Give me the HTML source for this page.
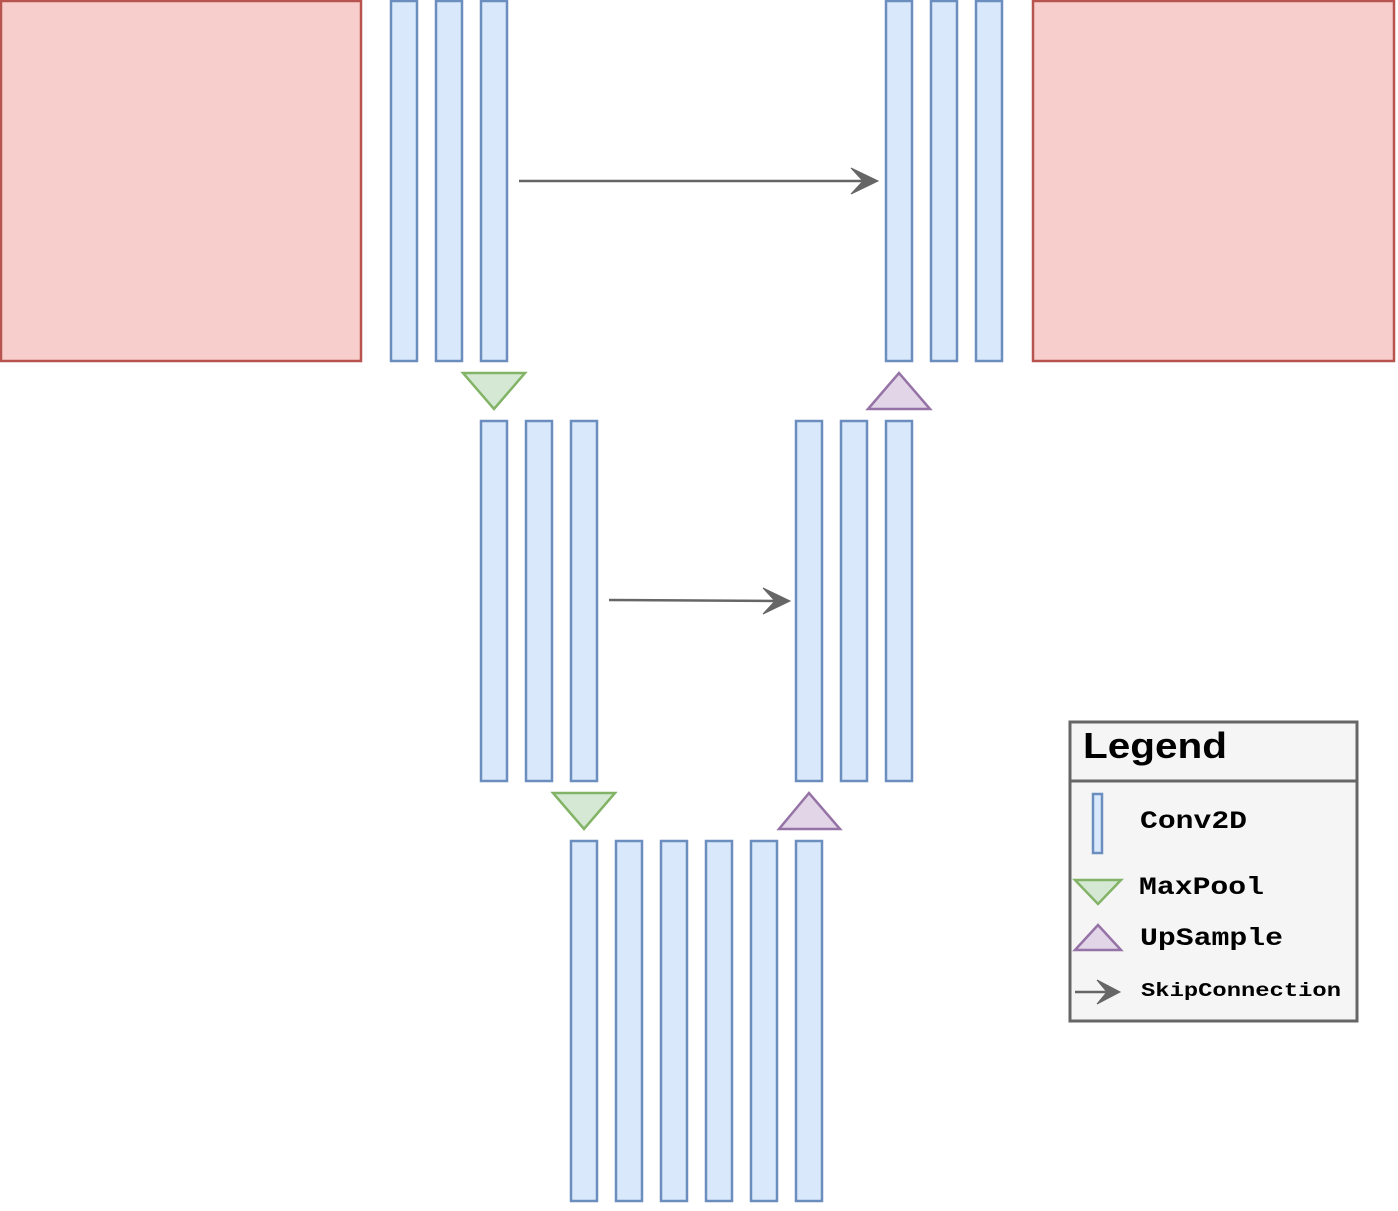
<!DOCTYPE html>
<html><head><meta charset="utf-8"><style>html,body{margin:0;padding:0;background:#fff}</style></head>
<body>
<svg width="1398" height="1206" viewBox="0 0 1398 1206" xmlns="http://www.w3.org/2000/svg">
<g fill="#f8cecc" stroke="#b85450" stroke-width="2.5">
<rect x="1" y="1" width="360" height="360"/>
<rect x="1033" y="1" width="361" height="360"/>
</g>
<g fill="#dae8fc" stroke="#6c8ebf" stroke-width="2.5">
<rect x="391" y="1" width="26" height="360"/><rect x="436" y="1" width="26" height="360"/><rect x="481" y="1" width="26" height="360"/>
<rect x="886" y="1" width="26" height="360"/><rect x="931" y="1" width="26" height="360"/><rect x="976" y="1" width="26" height="360"/>
<rect x="481" y="421" width="26" height="360"/><rect x="526" y="421" width="26" height="360"/><rect x="571" y="421" width="26" height="360"/>
<rect x="796" y="421" width="26" height="360"/><rect x="841" y="421" width="26" height="360"/><rect x="886" y="421" width="26" height="360"/>
<rect x="571" y="841" width="26" height="360"/><rect x="616" y="841" width="26" height="360"/><rect x="661" y="841" width="26" height="360"/>
<rect x="706" y="841" width="26" height="360"/><rect x="751" y="841" width="26" height="360"/><rect x="796" y="841" width="26" height="360"/>
</g>
<g fill="#d5e8d4" stroke="#82b366" stroke-width="2.5">
<polygon points="463,373 525,373 494,409"/>
<polygon points="553,793 615,793 584,829"/>
</g>
<g fill="#e1d5e7" stroke="#9673a6" stroke-width="2.5">
<polygon points="868,409 930,409 899,373"/>
<polygon points="779,829 840,829 809,793"/>
</g>
<rect x="1070" y="722" width="287" height="299" fill="#f5f5f5" stroke="#666" stroke-width="3"/>
<line x1="1070" y1="781" x2="1357" y2="781" stroke="#666" stroke-width="3"/>
<g stroke="#666" stroke-width="2.5" fill="none">
<line x1="519" y1="181" x2="866" y2="181"/>
<line x1="609" y1="600" x2="778" y2="601"/>
<line x1="1075" y1="992" x2="1108" y2="992"/>
</g>
<g fill="#666" stroke="#666" stroke-width="1">
<polygon points="878,181 851,168 863,181 851,194"/>
<polygon points="790,601 763,588 775,601 763,614"/>
<polygon points="1120,992 1097,980 1107,992 1097,1004"/>
</g>
<text x="1083" y="758" font-family="Liberation Sans, sans-serif" font-weight="bold" font-size="36" textLength="144" lengthAdjust="spacingAndGlyphs">Legend</text>
<rect x="1093" y="794" width="9" height="59" fill="#dae8fc" stroke="#6c8ebf" stroke-width="2.5"/>
<polygon points="1075,880 1121,880 1098,904" fill="#d5e8d4" stroke="#82b366" stroke-width="2.5"/>
<polygon points="1075,950 1121,950 1098,925" fill="#e1d5e7" stroke="#9673a6" stroke-width="2.5"/>
<g font-family="Liberation Mono, monospace" font-weight="bold" fill="#000">
<text x="1140" y="828" font-size="25" textLength="107" lengthAdjust="spacingAndGlyphs">Conv2D</text>
<text x="1139" y="894" font-size="25" textLength="125" lengthAdjust="spacingAndGlyphs">MaxPool</text>
<text x="1140" y="945" font-size="25" textLength="143" lengthAdjust="spacingAndGlyphs">UpSample</text>
<text x="1141" y="996" font-size="19" textLength="200" lengthAdjust="spacingAndGlyphs">SkipConnection</text>
</g>
</svg>
</body></html>
